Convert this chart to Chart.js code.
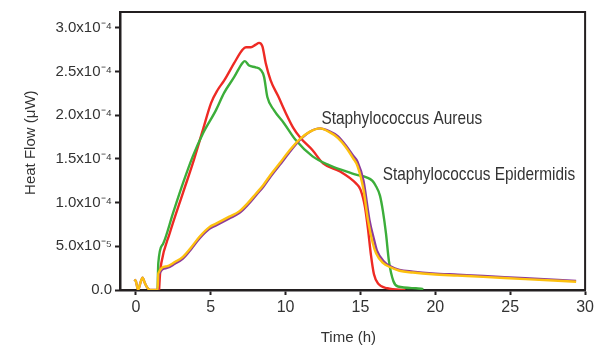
<!DOCTYPE html>
<html>
<head>
<meta charset="utf-8">
<script src="https://cdn.jsdelivr.net/npm/chart.js@4/dist/chart.umd.min.js"></script>
<style>
  html, body { margin: 0; padding: 0; background: #fff; }
</style>
</head>
<body>
<canvas id="chart" width="597" height="345"></canvas>
<script>
'use strict';

/* ── data (heat flow in units of 1e-4 µW, time in h) ── */
const redTime   = [1.55, 1.62, 1.7, 2.26, 3.14, 3.8, 4.47, 5.02, 5.46, 5.9, 6.57, 7.12, 7.35, 7.68, 8.0, 8.23, 8.45, 8.67, 9.0, 9.5, 10.0, 10.5, 11.0, 11.8, 12.5, 13.6, 14.7, 15.0, 15.3, 15.5, 15.7, 15.9, 16.2, 16.8, 18.0];
const redFlow   = [0, 0.2, 0.31, 0.65, 1.11, 1.45, 1.83, 2.14, 2.29, 2.40, 2.60, 2.75, 2.78, 2.78, 2.81, 2.83, 2.79, 2.60, 2.40, 2.22, 2.03, 1.86, 1.74, 1.60, 1.45, 1.36, 1.22, 1.15, 0.95, 0.70, 0.40, 0.18, 0.07, 0.02, 0];

const greenTime = [1.45, 1.5, 1.82, 2.48, 3.14, 3.8, 4.47, 5.35, 5.9, 6.57, 7.12, 7.28, 7.56, 8.0, 8.34, 8.56, 8.78, 9.22, 9.89, 10.66, 11.8, 12.9, 14.0, 14.7, 15.4, 15.8, 16.0, 16.3, 16.5, 16.7, 16.9, 17.2, 17.5, 18.7, 19.2];
const greenFlow = [0, 0.31, 0.53, 0.88, 1.22, 1.53, 1.79, 2.06, 2.26, 2.44, 2.60, 2.62, 2.57, 2.55, 2.52, 2.44, 2.21, 2.06, 1.91, 1.72, 1.53, 1.43, 1.36, 1.32, 1.29, 1.25, 1.20, 1.08, 0.90, 0.65, 0.33, 0.10, 0.04, 0.02, 0.01];

const purpleTime = [-0.1, 0.0, 0.15, 0.3, 0.45, 0.6, 0.75, 0.95, 1.48, 1.52, 2.04, 2.6, 3.14, 3.7, 4.25, 4.91, 5.35, 6.24, 6.9, 7.5, 8.0, 8.5, 9.0, 9.6, 10.27, 10.9, 11.6, 12.3, 12.9, 13.5, 14.0, 14.5, 14.8, 15.2, 15.6, 15.9, 16.1, 16.6, 17.0, 17.6, 18.5, 19.8, 21.5, 23.2, 26.0, 29.4];
const purpleFlow = [0.12, 0.10, 0.0, 0.08, 0.14, 0.08, 0.03, 0.0, 0.0, 0.17, 0.25, 0.30, 0.36, 0.47, 0.59, 0.70, 0.74, 0.82, 0.88, 0.98, 1.08, 1.18, 1.30, 1.43, 1.58, 1.71, 1.81, 1.85, 1.82, 1.76, 1.66, 1.54, 1.47, 1.25, 0.80, 0.58, 0.45, 0.32, 0.27, 0.23, 0.21, 0.19, 0.175, 0.16, 0.135, 0.105];

const yellowTime = [-0.1, 0.0, 0.15, 0.3, 0.45, 0.6, 0.75, 0.95, 1.45, 1.5, 2.04, 2.6, 3.14, 3.7, 4.25, 4.91, 5.35, 6.24, 6.9, 7.5, 8.0, 8.5, 9.0, 9.6, 10.27, 10.9, 11.6, 12.3, 12.9, 13.5, 14.0, 14.5, 14.8, 15.2, 15.5, 15.8, 16.04, 16.5, 17.0, 17.6, 18.5, 19.8, 21.5, 23.2, 26.0, 29.4];
const yellowFlow = [0.12, 0.10, 0.0, 0.08, 0.14, 0.08, 0.03, 0.0, 0.0, 0.19, 0.27, 0.32, 0.38, 0.49, 0.61, 0.72, 0.76, 0.84, 0.90, 1.00, 1.10, 1.20, 1.32, 1.45, 1.60, 1.72, 1.81, 1.85, 1.81, 1.74, 1.64, 1.51, 1.42, 1.15, 0.80, 0.55, 0.42, 0.31, 0.26, 0.22, 0.20, 0.18, 0.165, 0.15, 0.125, 0.095];

const xTicks      = [0, 5, 10, 15, 20, 25, 30];
const yTicks      = [0, 0.5, 1.0, 1.5, 2.0, 2.5, 3.0];
const yTickLabels = ['0.0', '5.0x10\u207B\u2075', '1.0x10\u207B\u2074', '1.5x10\u207B\u2074', '2.0x10\u207B\u2074', '2.5x10\u207B\u2074', '3.0x10\u207B\u2074'];

const labelTexts = ['Staphylococcus Aureus', 'Staphylococcus Epidermidis'];
const labelTime  = [12.39, 16.48];
const labelFlow  = [1.90, 1.26];

/* ── styling ── */
const FONT  = "'Liberation Sans', Arial, sans-serif";
const INK   = '#231f20';
const TEXT  = '#333333';
const COLORS = {
  red:    '#ee2a24',
  green:  '#3cae3a',
  purple: '#8c3a9b',
  yellow: '#fdc00f',
};

function toPoints(times, flows) {
  return times.map((t, i) => ({ x: t, y: flows[i] }));
}

function series(label, times, flows, color, order) {
  return {
    label: label,
    data: toPoints(times, flows),
    borderColor: color,
    backgroundColor: color,
    borderWidth: 2.4,
    pointRadius: 0,
    fill: false,
    cubicInterpolationMode: 'monotone',
    order: order,
  };
}

/* top and right frame lines + curve labels (narrow type, like the figure) */
const framePlugin = {
  id: 'frame',
  afterDatasetsDraw(chart) {
    const { ctx, chartArea: a, scales } = chart;
    ctx.save();
    ctx.strokeStyle = INK;
    ctx.lineWidth = 2;
    ctx.beginPath();
    ctx.moveTo(a.left, a.top);
    ctx.lineTo(a.right, a.top);
    ctx.lineTo(a.right, a.bottom);
    ctx.stroke();

    ctx.fillStyle = TEXT;
    ctx.font = '19px ' + FONT;
    ctx.textAlign = 'left';
    ctx.textBaseline = 'alphabetic';
    labelTexts.forEach((txt, i) => {
      ctx.save();
      ctx.translate(scales.x.getPixelForValue(labelTime[i]), scales.y.getPixelForValue(labelFlow[i]));
      ctx.scale(0.81, 1);
      ctx.fillText(txt, 0, 0);
      ctx.restore();
    });
    ctx.restore();
  },
};

new Chart(document.getElementById('chart'), {
  type: 'line',
  data: {
    datasets: [
      series('Yellow', yellowTime, yellowFlow, COLORS.yellow, 0),
      series('Purple', purpleTime, purpleFlow, COLORS.purple, 1),
      series('Green',  greenTime,  greenFlow,  COLORS.green,  2),
      series('Red',    redTime,    redFlow,    COLORS.red,    3),
    ],
  },
  options: {
    responsive: false,
    animation: false,
    layout: { padding: { top: 12, right: 9, left: 0, bottom: 0 } },
    plugins: {
      legend: { display: false },
      tooltip: { enabled: false },
    },
    scales: {
      x: {
        type: 'linear',
        min: -1.06,
        max: 30,
        afterBuildTicks: (s) => { s.ticks = xTicks.map(v => ({ value: v })); },
        afterFit: (s) => { s.height = 55; },
        ticks: {
          color: TEXT,
          font: { family: FONT, size: 16 },
          padding: 3,
          maxRotation: 0,
          callback: (v) => String(v),
        },
        grid: { drawOnChartArea: false, drawTicks: true, tickLength: 5, tickColor: INK, tickWidth: 2 },
        border: { display: true, color: INK, width: 2.5 },
        title: {
          display: true,
          text: 'Time (h)  ',
          color: TEXT,
          font: { family: FONT, size: 15, lineHeight: 1 },
          padding: { top: 0, bottom: 0 },
        },
      },
      y: {
        type: 'linear',
        min: 0,
        max: 3.183,
        afterBuildTicks: (s) => { s.ticks = yTicks.map(v => ({ value: v })); },
        afterFit: (s) => { s.width = 120; },
        ticks: {
          color: TEXT,
          font: { family: FONT, size: 15 },
          padding: 3,
          callback: (v, i) => yTickLabels[i],
        },
        grid: { drawOnChartArea: false, drawTicks: true, tickLength: 5, tickColor: INK, tickWidth: 2 },
        border: { display: true, color: INK, width: 2.5 },
        title: {
          display: true,
          text: '    Heat Flow (\u03BCW)',
          color: TEXT,
          font: { family: FONT, size: 15, lineHeight: 1 },
          padding: { top: 23, bottom: 0 },
        },
      },
    },
  },
  plugins: [framePlugin],
});
</script>
</body>
</html>
